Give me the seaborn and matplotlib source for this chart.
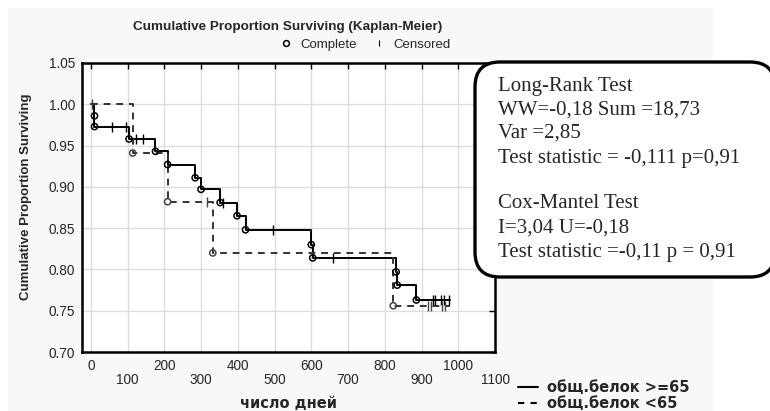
import matplotlib
matplotlib.use('Agg')
import matplotlib.pyplot as plt
import seaborn as sns
import pandas as pd
from matplotlib.lines import Line2D
from matplotlib.patches import FancyBboxPatch, Rectangle

# group "общ.белок >=65" (solid)
hi_event_t = [10, 10, 104, 176, 209, 284, 300, 352, 398, 421, 600, 604, 831, 834, 886]
hi_event_s = [0.986, 0.973, 0.958, 0.943, 0.927, 0.911, 0.897, 0.881, 0.865, 0.848,
              0.830, 0.814, 0.797, 0.781, 0.763]
hi_cens_t = [57, 96, 123, 141, 360, 496, 659, 931, 936, 954, 961, 976]
hi_cens_s = [0.973, 0.973, 0.958, 0.958, 0.881, 0.848, 0.814, 0.763, 0.763, 0.763, 0.763, 0.763]
hi_end = 977

# group "общ.белок <65" (dashed)
lo_event_t = [114, 209, 332, 823]
lo_event_s = [0.941, 0.882, 0.820, 0.756]
lo_cens_t = [3, 315, 917, 926, 956, 963]
lo_cens_s = [1.0, 0.882, 0.756, 0.756, 0.756, 0.756]
lo_end = 977

groups = ['общ.белок >=65', 'общ.белок <65']
x_ticks = list(range(0, 1200, 100))
y_ticks = [0.70, 0.75, 0.80, 0.85, 0.90, 0.95, 1.00, 1.05]

stats_lines = ['Long-Rank Test', 'WW=-0,18 Sum =18,73', 'Var =2,85',
               'Test statistic = -0,111 p=0,91', '',
               'Cox-Mantel Test', 'I=3,04 U=-0,18', 'Test statistic =-0,11 p = 0,91']

# step curves
hi = pd.DataFrame({'t': [0] + hi_event_t + [hi_end],
                   's': [1.0] + hi_event_s + [hi_event_s[-1]], 'group': groups[0]})
lo = pd.DataFrame({'t': [0] + lo_event_t + [lo_end],
                   's': [1.0] + lo_event_s + [lo_event_s[-1]], 'group': groups[1]})
curves = pd.concat([hi, lo], ignore_index=True)

sns.set_style('white')
plt.rcParams['font.family'] = ['Liberation Sans', 'DejaVu Sans']

W, H = 770, 411
fig = plt.figure(figsize=(W / 100, H / 100), dpi=100)
fig.add_artist(Rectangle((0.08, 0), 7.05, 4.03, transform=fig.dpi_scale_trans,
                         fc='#f8f8f8', ec='none', zorder=-1))
ax = fig.add_axes([82 / W, 59 / H, 413 / W, 289 / H])
ax.set_facecolor('white')

sns.lineplot(data=curves, x='t', y='s', style='group', dashes={groups[0]: '', groups[1]: (3.5, 3)},
             hue='group', palette={groups[0]: 'black', groups[1]: '#333333'},
             drawstyle='steps-post', estimator=None, sort=False, lw=1.4, legend=False, ax=ax)

sns.scatterplot(x=hi_event_t, y=hi_event_s, marker='o', s=20, facecolor='none',
                edgecolor='black', linewidth=1.1, zorder=5, ax=ax)
sns.scatterplot(x=lo_event_t, y=lo_event_s, marker='o', s=20, facecolor='none',
                edgecolor='#444444', linewidth=1.1, zorder=5, ax=ax)
sns.scatterplot(x=hi_cens_t, y=hi_cens_s, marker='|', s=45, color='black', linewidth=1.0, zorder=5, ax=ax)
sns.scatterplot(x=lo_cens_t, y=lo_cens_s, marker='|', s=45, color='#444444', linewidth=1.0, zorder=5, ax=ax)
for c in ax.collections[:2]:
    c.set_facecolor('none')

ax.set_xlim(-24, 1100)
ax.set_ylim(0.70, 1.05)
ax.set_xticks(x_ticks)
ax.set_xticklabels([str(v) if i % 2 == 0 else '\n' + str(v) for i, v in enumerate(x_ticks)],
                   linespacing=1.0)
ax.set_yticks(y_ticks)
ax.set_yticklabels([f'{v:.2f}' for v in y_ticks])
ax.grid(True, color='#dcdcdc', lw=1)
ax.tick_params(direction='in', top=True, right=True, length=4, width=1, color='black',
               labelsize=9.8, pad=5)
for sp in ax.spines.values():
    sp.set_visible(True)
    sp.set_color('black')
    sp.set_linewidth(1.8)
ax.set_xlabel('')
ax.set_ylabel('')

fig.text(288 / W, 1 - 27 / H, 'Cumulative Proportion Surviving (Kaplan-Meier)',
         ha='center', va='center', weight='bold', size=9.7)
fig.text(26 / W, 1 - 197 / H, 'Cumulative Proportion Surviving', rotation=90,
         ha='center', va='center', weight='bold', size=9.5)
fig.text(288 / W, 1 - 403 / H, 'число дней', ha='center', va='center',
         weight='bold', size=10.5, family='DejaVu Sans')

top_handles = [Line2D([], [], marker='o', ls='none', mfc='none', mec='black', ms=4.2, mew=1.1),
               Line2D([], [], marker='|', ls='none', color='black', ms=5, mew=0.8)]
fig.legend(top_handles, ['Complete', 'Censored'], ncol=2, loc='center',
           bbox_to_anchor=(365 / W, 1 - 45 / H), frameon=False, fontsize=9.5,
           handlelength=1, handletextpad=0.6, columnspacing=1.2)

bot_handles = [Line2D([], [], color='black', lw=1.5),
               Line2D([], [], color='black', lw=1.5, ls=(0, (3, 3)))]
fig.legend(bot_handles, groups, loc='center left', bbox_to_anchor=(518 / W, 1 - 395.5 / H),
           frameon=False, prop=dict(family='DejaVu Sans', weight='bold', size=10.5),
           handlelength=1.4, handletextpad=0.6, labelspacing=0.05, borderpad=0, borderaxespad=0)

box = FancyBboxPatch((4.75, 1.34), 3.0, 2.15, boxstyle='round,pad=0,rounding_size=0.25',
                     transform=fig.dpi_scale_trans, fc='white', ec='black', lw=2.4, zorder=2)
fig.add_artist(box)
y_px = [87, 110, 133, 158, 180, 203, 228, 252]
for line, yp in zip(stats_lines, y_px):
    fig.text(498 / W, 1 - yp / H, line, ha='left', va='center',
             family='Liberation Serif', size=15, zorder=3)

fig.savefig('out.png', dpi=100)
